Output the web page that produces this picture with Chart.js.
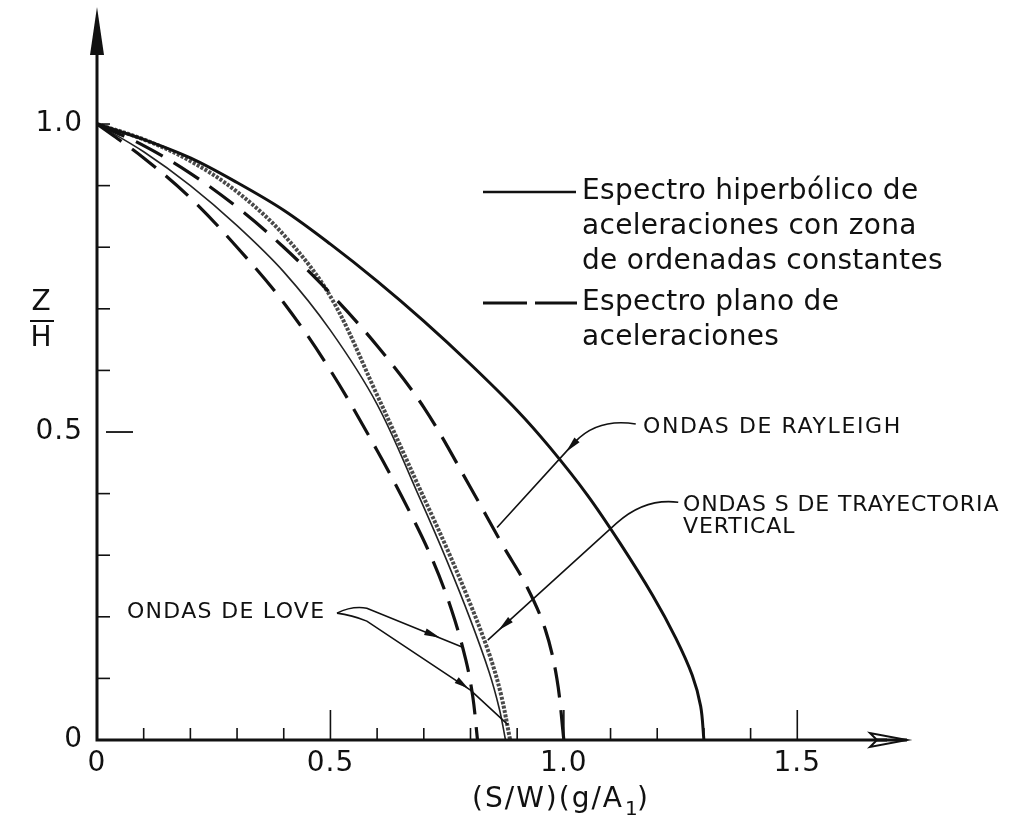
<!DOCTYPE html>
<html>
<head>
<meta charset="utf-8">
<script src="https://cdn.jsdelivr.net/npm/chart.js@4.4.1/dist/chart.umd.min.js"></script>
<style>
  html, body { margin: 0; padding: 0; background: #fff; }
  #wrap { width: 1013px; height: 823px; }
</style>
</head>
<body>
<div id="wrap"><canvas id="c" width="1013" height="823"></canvas></div>
<script>
// ---- data ----
const xTickValues = [0, 0.5, 1.0, 1.5];
const xTickLabels = ['0', '0.5', '1.0', '1.5'];
const yTickValues = [0, 0.5, 1.0];
const yTickLabels = ['0', '0.5', '1.0'];

// Espectro hiperbólico – ondas de Rayleigh (solid, outer)
const rayHypX = [0, 0.1, 0.2, 0.3, 0.4, 0.5, 0.6, 0.7, 0.8, 0.9, 0.97, 1.05, 1.12, 1.19, 1.24, 1.275, 1.293, 1.3];
const rayHypY = [1.0, 0.975, 0.945, 0.905, 0.86, 0.805, 0.745, 0.68, 0.61, 0.535, 0.475, 0.398, 0.32, 0.235, 0.165, 0.105, 0.055, 0.0];
// Espectro plano – ondas de Rayleigh (dashed, outer)
const rayFlatX = [0, 0.1, 0.2, 0.3, 0.4, 0.5, 0.6, 0.7, 0.8, 0.87, 0.92, 0.96, 0.985, 1.0];
const rayFlatY = [1.0, 0.965, 0.92, 0.865, 0.8, 0.725, 0.64, 0.54, 0.41, 0.315, 0.25, 0.18, 0.1, 0.0];
// Espectro plano – ondas de Love (dashed, inner)
const loveFlatX = [0, 0.1, 0.2, 0.3, 0.4, 0.5, 0.6, 0.67, 0.72, 0.76, 0.79, 0.805, 0.815];
const loveFlatY = [1.0, 0.945, 0.88, 0.80, 0.71, 0.60, 0.47, 0.37, 0.29, 0.21, 0.13, 0.07, 0.0];
// Espectro hiperbólico – ondas de Love (thin solid)
const loveHypX = [0, 0.1, 0.2, 0.3, 0.4, 0.5, 0.6, 0.69, 0.75, 0.8, 0.84, 0.862, 0.875];
const loveHypY = [1.0, 0.955, 0.9, 0.835, 0.76, 0.665, 0.545, 0.395, 0.29, 0.195, 0.11, 0.05, 0.0];
// Ondas S de trayectoria vertical (thick stippled)
const sVertX = [0, 0.1, 0.2, 0.3, 0.4, 0.5, 0.6, 0.69, 0.75, 0.8, 0.84, 0.865, 0.885];
const sVertY = [1.0, 0.975, 0.94, 0.89, 0.82, 0.72, 0.56, 0.41, 0.31, 0.22, 0.14, 0.075, 0.0];

const legendLines = [
  ['Espectro hiperbólico de', 'aceleraciones con zona', 'de ordenadas constantes'],
  ['Espectro plano de', 'aceleraciones']
];
const xTitle = '(S/W)(g/A';
const xTitleSub = '1';
const yTitleTop = 'Z';
const yTitleBottom = 'H';
const labelRayleigh = 'ONDAS DE RAYLEIGH';
const labelS1 = 'ONDAS S DE TRAYECTORIA';
const labelS2 = 'VERTICAL';
const labelLove = 'ONDAS DE LOVE';

const X_MAX = 1.735, Y_MAX = 1.19;

function pts(xs, ys) { return xs.map((x, i) => ({ x: x, y: ys[i] })); }

const FONT = '"DejaVu Sans", "Liberation Sans", sans-serif';

function txt(ctx, s, x, y, size, align, spacing, base) {
  ctx.save();
  ctx.font = size + 'px ' + FONT;
  ctx.fillStyle = '#111';
  ctx.textAlign = align || 'left';
  ctx.textBaseline = base || 'middle';
  try { ctx.letterSpacing = (spacing || 0) + 'px'; } catch (e) {}
  ctx.fillText(s, x, y);
  ctx.restore();
}

function arrowHead(ctx, tipX, tipY, fromX, fromY, len, half) {
  const dx = tipX - fromX, dy = tipY - fromY;
  const d = Math.hypot(dx, dy) || 1;
  const ux = dx / d, uy = dy / d;
  ctx.beginPath();
  ctx.moveTo(tipX, tipY);
  ctx.lineTo(tipX - ux * len - uy * half, tipY - uy * len + ux * half);
  ctx.lineTo(tipX - ux * len + uy * half, tipY - uy * len - ux * half);
  ctx.closePath();
  ctx.fill();
}

const drawPlugin = {
  id: 'drawing',
  afterDatasetsDraw(chart) {
    const ctx = chart.ctx;
    const xs = chart.scales.x, ys = chart.scales.y;
    const X = v => xs.getPixelForValue(v);
    const Y = v => ys.getPixelForValue(v);
    const x0 = X(0), y0 = Y(0);
    ctx.save();
    ctx.strokeStyle = '#111';
    ctx.fillStyle = '#111';
    ctx.lineCap = 'butt';

    // axes
    ctx.lineWidth = 3;
    ctx.beginPath();
    ctx.moveTo(x0, y0 + 1.5); ctx.lineTo(x0, Y(Y_MAX) + 30);
    ctx.moveTo(x0 - 1.5, y0); ctx.lineTo(X(X_MAX) - 20, y0);
    ctx.stroke();
    // y arrow
    ctx.beginPath();
    ctx.moveTo(x0, Y(Y_MAX));
    ctx.lineTo(x0 - 7, Y(Y_MAX) + 48);
    ctx.lineTo(x0 + 7, Y(Y_MAX) + 48);
    ctx.closePath(); ctx.fill();
    // x arrow (open)
    ctx.lineWidth = 2;
    const xe = X(X_MAX);
    ctx.beginPath();
    ctx.moveTo(xe, y0);
    ctx.lineTo(xe - 37, y0 - 7);
    ctx.lineTo(xe - 30, y0);
    ctx.lineTo(xe - 37, y0 + 7);
    ctx.closePath(); ctx.stroke();
    ctx.beginPath(); ctx.moveTo(xe - 30, y0); ctx.lineTo(xe, y0); ctx.lineWidth = 3; ctx.stroke();

    // x ticks
    ctx.lineWidth = 1.6;
    for (let i = 1; i <= 15; i++) {
      const v = i / 10;
      const major = (i % 5 === 0);
      ctx.beginPath();
      ctx.moveTo(X(v), y0);
      ctx.lineTo(X(v), y0 - (major ? 30 : 12));
      ctx.stroke();
    }
    // y ticks
    for (let i = 1; i <= 10; i++) {
      const v = i / 10;
      ctx.beginPath();
      if (i === 5) { ctx.lineWidth = 1.8; ctx.moveTo(x0 + 9, Y(v)); ctx.lineTo(x0 + 36, Y(v)); }
      else { ctx.lineWidth = 1.6; ctx.moveTo(x0, Y(v)); ctx.lineTo(x0 + 13, Y(v)); }
      ctx.stroke();
    }
    // tick labels
    xTickValues.forEach((v, i) => txt(ctx, xTickLabels[i], X(v), y0 + 24, 28, 'center', 1));
    yTickValues.forEach((v, i) => txt(ctx, yTickLabels[i], x0 - 14, Y(v), 28, 'right', 1));

    // x title
    ctx.save();
    ctx.font = '28px ' + FONT;
    try { ctx.letterSpacing = '2px'; } catch (e) {}
    const tw = ctx.measureText(xTitle).width;
    ctx.restore();
    const tx = 472, ty = y0 + 60;
    txt(ctx, xTitle, tx, ty, 28, 'left', 2);
    txt(ctx, xTitleSub, tx + tw + 1, ty + 10, 20, 'left', 0);
    txt(ctx, ')', tx + tw + 13, ty, 28, 'left', 0);

    // y title Z / H
    txt(ctx, yTitleTop, 41, 303, 28, 'center', 0);
    ctx.lineWidth = 2;
    ctx.beginPath(); ctx.moveTo(30, 321); ctx.lineTo(54, 321); ctx.stroke();
    txt(ctx, yTitleBottom, 41, 339, 28, 'center', 0);

    // legend
    ctx.lineWidth = 2.5;
    ctx.beginPath(); ctx.moveTo(483, 192); ctx.lineTo(576, 192); ctx.stroke();
    ctx.lineWidth = 3;
    ctx.beginPath(); ctx.moveTo(483, 303); ctx.lineTo(527, 303); ctx.moveTo(535, 303); ctx.lineTo(577, 303); ctx.stroke();
    legendLines[0].forEach((s, i) => txt(ctx, s, 582, 192 + i * 35, 28, 'left', 0.3));
    legendLines[1].forEach((s, i) => txt(ctx, s, 582, 303 + i * 35, 28, 'left', 0.3));

    // annotation labels
    txt(ctx, labelRayleigh, 643, 427, 22, 'left', 1.6);
    txt(ctx, labelS1, 683, 505, 22, 'left', 0.9);
    txt(ctx, labelS2, 683, 527, 22, 'left', 0.9);
    txt(ctx, labelLove, 127, 612, 22, 'left', 1.3);

    // leaders
    ctx.lineWidth = 1.6;
    // Rayleigh
    ctx.beginPath();
    ctx.moveTo(X(1.154), Y(0.513));
    ctx.quadraticCurveTo(X(1.073), Y(0.523), X(1.024), Y(0.484));
    ctx.lineTo(X(0.857), Y(0.345));
    ctx.stroke();
    arrowHead(ctx, X(1.005), Y(0.468), X(1.04), Y(0.497), 16, 3.5);
    // S vertical
    ctx.beginPath();
    ctx.moveTo(X(1.245), Y(0.386));
    ctx.quadraticCurveTo(X(1.173), Y(0.393), X(1.113), Y(0.352));
    ctx.lineTo(X(0.837), Y(0.162));
    ctx.stroke();
    arrowHead(ctx, X(0.86), Y(0.178), X(0.9), Y(0.205), 16, 3.5);
    // Love upper
    ctx.beginPath();
    ctx.moveTo(X(0.514), Y(0.206));
    ctx.quadraticCurveTo(X(0.546), Y(0.218), X(0.578), Y(0.214));
    ctx.lineTo(X(0.782), Y(0.151));
    ctx.stroke();
    arrowHead(ctx, X(0.735), Y(0.166), X(0.69), Y(0.18), 16, 3.5);
    // Love lower
    ctx.beginPath();
    ctx.moveTo(X(0.514), Y(0.206));
    ctx.quadraticCurveTo(X(0.546), Y(0.203), X(0.578), Y(0.193));
    ctx.lineTo(X(0.80), Y(0.081));
    ctx.lineTo(X(0.88), Y(0.025));
    ctx.stroke();
    arrowHead(ctx, X(0.795), Y(0.084), X(0.75), Y(0.108), 14, 3.5);

    ctx.restore();
  }
};

const common = { pointRadius: 0, pointHoverRadius: 0, fill: false, tension: 0.35, clip: false, borderCapStyle: 'butt' };

new Chart(document.getElementById('c'), {
  type: 'line',
  data: {
    datasets: [
      Object.assign({ label: 'Rayleigh hiperbólico', data: pts(rayHypX, rayHypY), borderColor: '#111', borderWidth: 3 }, common),
      Object.assign({ label: 'Rayleigh plano', data: pts(rayFlatX, rayFlatY), borderColor: '#111', borderWidth: 3.2, borderDash: [30, 13] }, common),
      Object.assign({ label: 'Love plano', data: pts(loveFlatX, loveFlatY), borderColor: '#111', borderWidth: 3.2, borderDash: [30, 13] }, common),
      Object.assign({ label: 'Love hiperbólico', data: pts(loveHypX, loveHypY), borderColor: '#222', borderWidth: 1.6 }, common),
      Object.assign({ label: 'Ondas S', data: pts(sVertX, sVertY), borderColor: '#4a4a4a', borderWidth: 4, borderDash: [3, 1.5] }, common)
    ]
  },
  options: {
    responsive: false,
    animation: false,
    events: [],
    layout: { padding: { left: 97, right: 106, top: 7, bottom: 83 } },
    scales: {
      x: { type: 'linear', min: 0, max: X_MAX, display: false },
      y: { type: 'linear', min: 0, max: Y_MAX, display: false }
    },
    plugins: { legend: { display: false }, tooltip: { enabled: false }, title: { display: false } }
  },
  plugins: [drawPlugin]
});
</script>
</body>
</html>
